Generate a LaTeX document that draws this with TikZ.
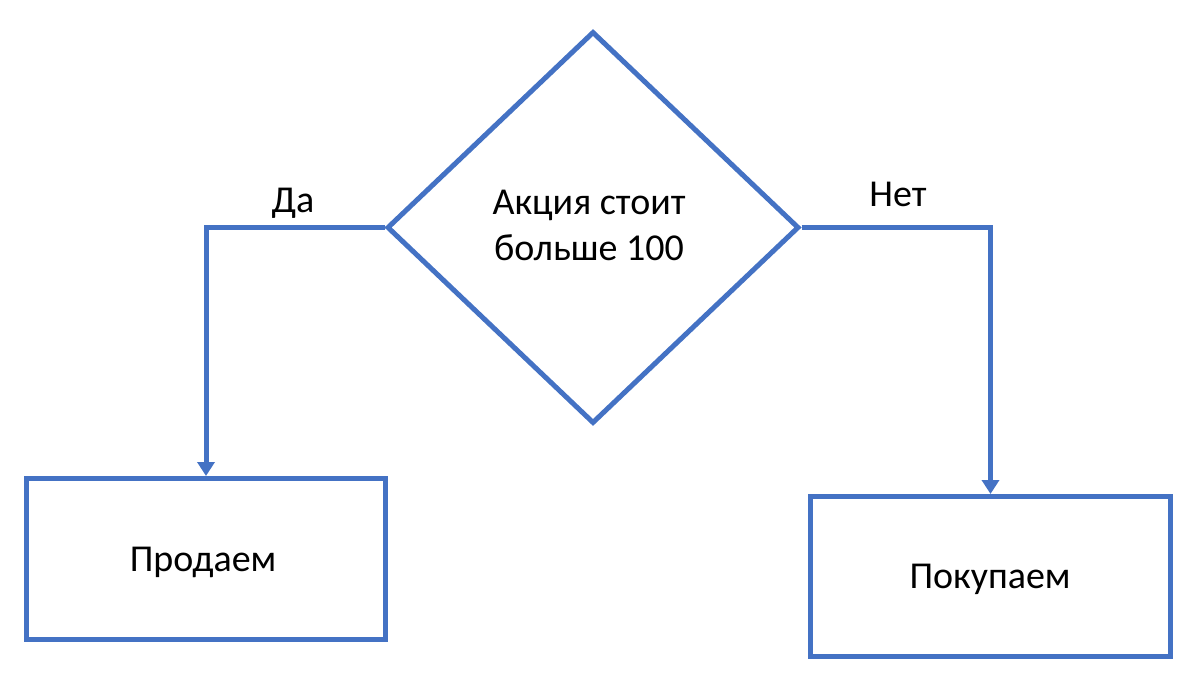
\documentclass[tikz,border=0pt]{standalone}
\usepackage{fontspec}
\setmainfont{Carlito}
\usetikzlibrary{shapes.geometric,arrows.meta}
\definecolor{flowblue}{HTML}{4472C4}
\begin{document}
\begin{tikzpicture}[x=1pt,y=-1pt,
  every node/.style={font=\fontsize{38}{46}\selectfont},
  procbox/.style={draw=flowblue,line width=5pt,inner sep=0pt,minimum width=359pt,minimum height=161pt},
  decision/.style={draw=flowblue,line width=5pt,diamond,inner sep=0pt,minimum width=412pt,minimum height=392pt},
  conn/.style={draw=flowblue,line width=5pt,-{Triangle[width=17pt,length=14pt]}},
  lbl/.style={anchor=base,inner sep=0pt}]
\useasboundingbox (0,0) rectangle (1196,684);
\node[decision] (dia) at (593,227.5) {};
\node[lbl,align=center] (dtext) at (589,261) {Акция стоит\\больше 100};
\node[procbox] (lbox) at (206,559) {};
\node[procbox,minimum width=360pt,minimum height=160pt] (rbox) at (990.5,576.5) {};
\node[lbl] (ltext) at (203,571) {Продаем};
\node[lbl] (rtext) at (990,588) {Покупаем};
\draw[conn] (dia.west) -| (lbox.north);
\draw[conn] (dia.east) -| (rbox.north);
\node[lbl] (yes) at (293,213) {Да};
\node[lbl] (no) at (898,207) {Нет};
\end{tikzpicture}
\end{document}
